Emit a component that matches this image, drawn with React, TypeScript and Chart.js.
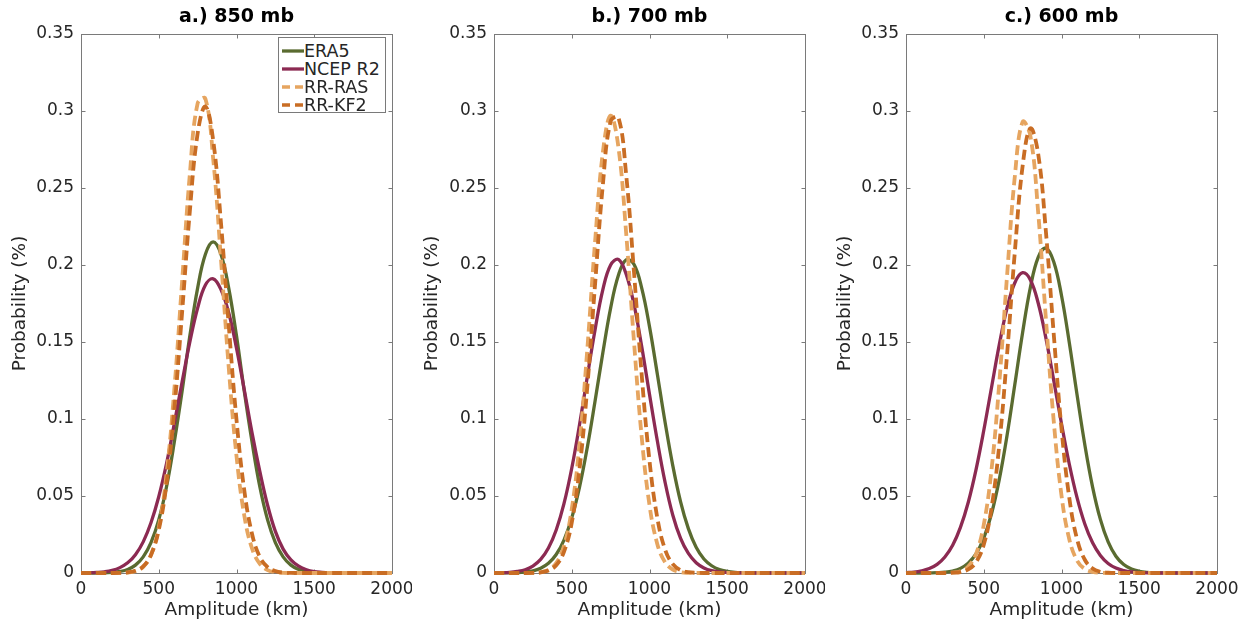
import React, { useEffect, useRef } from "react";
import { Chart, registerables } from "chart.js";

Chart.register(...registerables);

// ---------- data ----------
const AMPLITUDE_KM = [
  0, 50, 100, 150, 200, 250, 300, 350, 400, 450, 500, 550, 600, 650, 700, 750, 800, 850, 900, 950,
  1000, 1050, 1100, 1150, 1200, 1250, 1300, 1350, 1400, 1450, 1500, 1550, 1600, 1650, 1700, 1750,
  1800, 1850, 1900, 1950, 2000,
];

const SERIES_NAMES = ["ERA5", "NCEP R2", "RR-RAS", "RR-KF2"];
const PANEL_TITLES = ["a.) 850 mb", "b.) 700 mb", "c.) 600 mb"];
const X_TICKS = [0, 500, 1000, 1500, 2000];
const Y_TICKS = [0, 0.05, 0.1, 0.15, 0.2, 0.25, 0.3, 0.35];
const X_TITLE = "Amplitude (km)";
const Y_TITLE = "Probability (%)";

// 850 mb
const ERA5_850 = [0, 0, 0, 0.0001, 0.0004, 0.001, 0.0023, 0.0051, 0.0105, 0.0197, 0.0345, 0.056, 0.085, 0.118, 0.154, 0.185, 0.207, 0.215, 0.207, 0.185, 0.154, 0.118, 0.085, 0.056, 0.0345, 0.0197, 0.0105, 0.0051, 0.0023, 0.001, 0.0004, 0.0001, 0, 0, 0, 0, 0, 0, 0, 0, 0];
const NCEP_850 = [0.0001, 0.0002, 0.0004, 0.0008, 0.0017, 0.0035, 0.0066, 0.0119, 0.0202, 0.0326, 0.0495, 0.071, 0.097, 0.124, 0.15, 0.172, 0.187, 0.191, 0.184, 0.169, 0.146, 0.119, 0.091, 0.066, 0.044, 0.027, 0.0155, 0.0085, 0.0044, 0.0021, 0.0009, 0.0004, 0.0001, 0, 0, 0, 0, 0, 0, 0, 0];
const RAS_850 = [0, 0, 0, 0, 0, 0.0001, 0.0003, 0.0012, 0.004, 0.0117, 0.0295, 0.064, 0.119, 0.189, 0.259, 0.305, 0.308, 0.269, 0.204, 0.1335, 0.076, 0.0373, 0.0159, 0.0059, 0.0019, 0.0005, 0.0001, 0, 0, 0, 0, 0, 0, 0, 0, 0, 0, 0, 0, 0, 0];
const KF2_850 = [0, 0, 0, 0, 0, 0.0001, 0.0004, 0.0014, 0.0043, 0.0117, 0.0279, 0.058, 0.106, 0.169, 0.235, 0.2854, 0.303, 0.281, 0.2275, 0.161, 0.0995, 0.0537, 0.0253, 0.0104, 0.0038, 0.0012, 0.0003, 0.0001, 0, 0, 0, 0, 0, 0, 0, 0, 0, 0, 0, 0, 0];

// 700 mb
const ERA5_700 = [0, 0, 0.0001, 0.0002, 0.0006, 0.0014, 0.0031, 0.0063, 0.012, 0.0214, 0.0358, 0.0558, 0.0816, 0.1117, 0.143, 0.172, 0.1933, 0.2034, 0.2005, 0.185, 0.16, 0.1294, 0.098, 0.0696, 0.0462, 0.0288, 0.0167, 0.0091, 0.0047, 0.0022, 0.001, 0.0004, 0.0002, 0.0001, 0, 0, 0, 0, 0, 0, 0];
const NCEP_700 = [0.0001, 0.0002, 0.0004, 0.001, 0.0021, 0.0045, 0.0088, 0.0162, 0.0279, 0.045, 0.068, 0.0963, 0.1275, 0.158, 0.184, 0.2, 0.2036, 0.194, 0.1745, 0.147, 0.116, 0.086, 0.059, 0.0375, 0.0225, 0.0127, 0.0067, 0.0033, 0.0015, 0.0007, 0.0003, 0.0001, 0, 0, 0, 0, 0, 0, 0, 0, 0];
const RAS_700 = [0, 0, 0, 0, 0, 0.0001, 0.0005, 0.002, 0.0064, 0.0176, 0.0415, 0.0838, 0.1452, 0.2151, 0.2731, 0.297, 0.2766, 0.2205, 0.1506, 0.0881, 0.0441, 0.0189, 0.007, 0.0022, 0.0006, 0.0001, 0, 0, 0, 0, 0, 0, 0, 0, 0, 0, 0, 0, 0, 0, 0];
const KF2_700 = [0, 0, 0, 0, 0, 0.0001, 0.0004, 0.0016, 0.005, 0.0137, 0.0327, 0.0675, 0.1208, 0.1875, 0.252, 0.2933, 0.2959, 0.2585, 0.1957, 0.1284, 0.0729, 0.0359, 0.0153, 0.0057, 0.0018, 0.0005, 0.0001, 0, 0, 0, 0, 0, 0, 0, 0, 0, 0, 0, 0, 0, 0];

// 600 mb
const ERA5_600 = [0, 0, 0, 0.0001, 0.0002, 0.0005, 0.0013, 0.003, 0.0064, 0.0124, 0.0227, 0.0385, 0.0608, 0.0894, 0.1225, 0.1562, 0.1855, 0.205, 0.211, 0.2021, 0.1802, 0.1497, 0.1157, 0.0833, 0.0558, 0.0348, 0.0202, 0.0109, 0.0055, 0.0026, 0.0011, 0.0004, 0.0002, 0.0001, 0, 0, 0, 0, 0, 0, 0];
const NCEP_600 = [0.0003, 0.0006, 0.0014, 0.0029, 0.0056, 0.0104, 0.018, 0.0296, 0.0458, 0.067, 0.0925, 0.1205, 0.1483, 0.1721, 0.1885, 0.195, 0.1903, 0.1753, 0.1524, 0.1251, 0.0969, 0.0708, 0.0489, 0.0318, 0.0196, 0.0114, 0.0062, 0.0032, 0.0016, 0.0007, 0.0003, 0.0001, 0, 0, 0, 0, 0, 0, 0, 0, 0];
const RAS_600 = [0, 0, 0, 0, 0, 0.0001, 0.0003, 0.0012, 0.0042, 0.0123, 0.0312, 0.0672, 0.1235, 0.1932, 0.2577, 0.2929, 0.2837, 0.2341, 0.1646, 0.0987, 0.0504, 0.0219, 0.0081, 0.0026, 0.0007, 0.0002, 0, 0, 0, 0, 0, 0, 0, 0, 0, 0, 0, 0, 0, 0, 0];
const KF2_600 = [0, 0, 0, 0, 0, 0, 0.0002, 0.0006, 0.0023, 0.0069, 0.0184, 0.0422, 0.0833, 0.142, 0.2086, 0.2643, 0.2888, 0.2722, 0.2213, 0.1552, 0.0938, 0.0489, 0.022, 0.0086, 0.0029, 0.0008, 0.0002, 0, 0, 0, 0, 0, 0, 0, 0, 0, 0, 0, 0, 0, 0];

const PANEL_SERIES = [
  [ERA5_850, NCEP_850, RAS_850, KF2_850],
  [ERA5_700, NCEP_700, RAS_700, KF2_700],
  [ERA5_600, NCEP_600, RAS_600, KF2_600],
];

// ---------- styles ----------
const FONT = "'DejaVu Sans', sans-serif";
const COLORS = ["#5a6b30", "#8c2a52", "#e6a560", "#c96d24"];
const WIDTHS = [3.3, 3.3, 3.8, 3.8];
const DASHES: number[][] = [[], [], [10, 5], [10, 5]];
const TEXT_COLOR = "#262626";
const BOX_COLOR = "#7a7a7a";

const H = 624;
const PANELS = [
  { left: 0, width: 412, plotLeft: 81, plotRight: 392 },
  { left: 412, width: 413, plotLeft: 494, plotRight: 805 },
  { left: 825, width: 424, plotLeft: 906, plotRight: 1217 },
];

const boxPlugin = {
  id: "matlabBox",
  beforeDatasetsDraw(chart: any) {
    const { ctx, chartArea: a, scales } = chart;
    ctx.save();
    ctx.strokeStyle = BOX_COLOR;
    ctx.lineWidth = 1;
    const l = Math.round(a.left) + 0.5;
    const r = Math.round(a.right) + 0.5;
    const t = Math.round(a.top) + 0.5;
    const b = Math.round(a.bottom) + 0.5;
    ctx.strokeRect(l, t, r - l, b - t);
    const L = 4;
    ctx.beginPath();
    for (const v of X_TICKS) {
      const px = Math.round(scales.x.getPixelForValue(v)) + 0.5;
      ctx.moveTo(px, b);
      ctx.lineTo(px, b - L);
      ctx.moveTo(px, t);
      ctx.lineTo(px, t + L);
    }
    for (const v of Y_TICKS) {
      const py = Math.round(scales.y.getPixelForValue(v)) + 0.5;
      ctx.moveTo(l, py);
      ctx.lineTo(l + L, py);
      ctx.moveTo(r, py);
      ctx.lineTo(r - L, py);
    }
    ctx.stroke();
    ctx.restore();
  },
};

function Panel({ idx }: { idx: number }) {
  const ref = useRef<HTMLCanvasElement | null>(null);
  const p = PANELS[idx];
  useEffect(() => {
    if (!ref.current) return;
    const series = PANEL_SERIES[idx];
    const chart = new Chart(ref.current, {
      type: "line",
      data: {
        datasets: series.map((vals, i) => ({
          label: SERIES_NAMES[i],
          data: AMPLITUDE_KM.map((x, j) => ({ x, y: vals[j] })),
          borderColor: COLORS[i],
          backgroundColor: COLORS[i],
          borderWidth: WIDTHS[i],
          borderDash: DASHES[i],
          pointRadius: 0,
          tension: 0.4,
          fill: false,
          clip: false,
          order: 4 - i,
        })),
      },
      options: {
        responsive: false,
        animation: false,
        devicePixelRatio: 1,
        layout: { padding: { left: 0, right: p.width - (p.plotRight - p.left), top: 0, bottom: 0 } },
        plugins: {
          legend: { display: false },
          tooltip: { enabled: false },
          title: {
            display: true,
            text: PANEL_TITLES[idx],
            fullSize: false,
            color: "#000",
            font: { family: FONT, size: 19, weight: "bold" },
            padding: { top: 5.5, bottom: 5.7 },
          },
        },
        scales: {
          x: {
            type: "linear",
            min: 0,
            max: 2000,
            afterBuildTicks: (s: any) => {
              s.ticks = X_TICKS.map((v) => ({ value: v }));
            },
            afterFit: (s: any) => {
              s.height = H - 573;
              s.paddingLeft = 0;
              s.paddingRight = 0;
            },
            ticks: {
              color: TEXT_COLOR,
              font: { family: FONT, size: 17 },
              padding: 6,
              maxRotation: 0,
              autoSkip: false,
              callback: (v: any) => String(v),
            },
            grid: { display: false, drawTicks: false },
            border: { display: false },
            title: {
              display: true,
              text: X_TITLE,
              color: TEXT_COLOR,
              font: { family: FONT, size: 18.5 },
              padding: { top: 0, bottom: 3 },
            },
          },
          y: {
            type: "linear",
            min: 0,
            max: 0.35,
            afterBuildTicks: (s: any) => {
              s.ticks = Y_TICKS.map((v) => ({ value: v }));
            },
            afterFit: (s: any) => {
              s.width = p.plotLeft - p.left;
              s.paddingTop = 0;
              s.paddingBottom = 0;
            },
            ticks: {
              color: TEXT_COLOR,
              font: { family: FONT, size: 17 },
              padding: 7,
              autoSkip: false,
              callback: (v: any) => String(Math.round(Number(v) * 100) / 100),
            },
            grid: { display: false, drawTicks: false },
            border: { display: false },
            title: {
              display: true,
              text: Y_TITLE,
              color: TEXT_COLOR,
              font: { family: FONT, size: 18.5 },
              padding: { top: 9, bottom: 0 },
            },
          },
        },
      },
      plugins: [boxPlugin],
    } as any);
    return () => chart.destroy();
  }, [idx]);
  return (
    <canvas
      ref={ref}
      width={p.width}
      height={H}
      style={{ position: "absolute", left: p.left, top: 0, width: p.width, height: H, display: "block" }}
    />
  );
}

function Legend() {
  return (
    <div
      style={{
        position: "absolute",
        left: 278,
        top: 37,
        width: 108,
        height: 76,
        border: `1px solid ${BOX_COLOR}`,
        background: "#fff",
        fontFamily: FONT,
        fontSize: 17.5,
        color: TEXT_COLOR,
        boxSizing: "border-box",
      }}
    >
      {SERIES_NAMES.map((name, i) => (
        <div
          key={name}
          style={{ position: "absolute", left: 3, top: 4 + i * 18, height: 18, display: "flex", alignItems: "center", whiteSpace: "nowrap" }}
        >
          <svg width={22} height={6} style={{ display: "block", marginRight: 0 }}>
            <line
              x1={0}
              y1={3}
              x2={22}
              y2={3}
              stroke={COLORS[i]}
              strokeWidth={3.3}
              strokeDasharray={DASHES[i].length ? "8 5" : undefined}
            />
          </svg>
          <span style={{ lineHeight: "18px" }}>{name}</span>
        </div>
      ))}
    </div>
  );
}

export default function App() {
  return (
    <div style={{ position: "fixed", left: 0, top: 0, width: 1249, height: H, background: "#fff", overflow: "hidden" }}>
      {PANELS.map((_, i) => (
        <Panel key={i} idx={i} />
      ))}
      <Legend />
    </div>
  );
}
